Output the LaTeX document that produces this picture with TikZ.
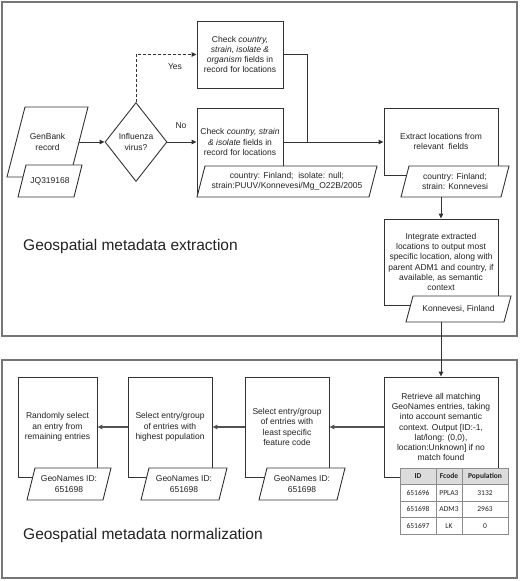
\documentclass[tikz,border=0pt]{standalone}
\usepackage{fontspec}
\setmainfont{Liberation Sans}
\newfontfamily\tabfont{Carlito}
\usetikzlibrary{arrows.meta,shapes.geometric}
\definecolor{ln}{HTML}{333333}
\definecolor{framec}{HTML}{767676}
\definecolor{hdr}{HTML}{DCDCDC}
\definecolor{tl}{HTML}{8C8C8C}
\definecolor{txtc}{HTML}{222222}
\newcommand\txt{\fontsize{8.5}{10.3}\selectfont}
% name, x bottom-left, x top-right, y top, y bottom, slant, text
\newcommand\mypara[7]{%
  \filldraw[pline] ({#2+#6},#4) -- (#3,#4) -- ({#3-#6},#5) -- (#2,#5) -- cycle;
  \node[ptext, minimum width={#3-#2}, minimum height={#5-#4}] (#1) at ({(#2+#3)/2},{(#4+#5)/2}) {#7};
}
\tikzset{
  box/.style={draw=ln, line width=0.9pt, fill=white, inner sep=0pt, align=center, font=\txt, text=txtc},
  ptext/.style={inner sep=0pt, align=center, font=\txt, text=txtc},
  pline/.style={draw=ln, fill=white, line width=0.9pt},
  conn/.style={draw=ln, line width=0.9pt, -{Triangle[length=5pt,width=4.5pt]}},
  connb/.style={draw=ln!85, line width=1.4pt, -{Triangle[length=5pt,width=4.5pt]}},
  plainln/.style={draw=ln, line width=0.9pt},
  framebox/.style={draw=framec, line width=1.1pt},
  ttl/.style={inner sep=0pt, anchor=west, font=\fontsize{15.5}{18}\selectfont, text=txtc},
  tabtxt/.style={inner sep=0pt, font=\tabfont\fontsize{7.5}{9}\selectfont, text=txtc},
  tabhd/.style={inner sep=0pt, font=\tabfont\bfseries\fontsize{7.5}{9}\selectfont, text=txtc},
}
\begin{document}
\begin{tikzpicture}[x=1pt,y=-1pt]
\useasboundingbox (0,0) rectangle (520,581);
% frames
\draw[framebox] (2,2) rectangle (517,336);
\draw[framebox] (2,360) rectangle (517,578);
\node[ttl] (t1) at (23,246) {Geospatial metadata extraction};
\node[ttl] (t2) at (23,535) {Geospatial metadata normalization};

% extraction part
\mypara{gb}{7}{88}{107}{177}{18}{GenBank\\record}
\mypara{jq}{18}{82}{165}{197}{8}{JQ319168}
\node[box, diamond, minimum width=62pt, minimum height=79pt] (dia) at (136,142) {Influenza\\virus?};

\node[box, minimum width=86pt, minimum height=67pt] (chk1) at (240,54.5)
  {Check \textit{country,}\\\textit{strain}, \textit{isolate \&}\\\textit{organism} fields in\\record for locations};
\node[box, minimum width=86pt, minimum height=85pt] (chk2) at (240,150.5) {};
\node[ptext] (chk2t) at (240,142) {Check \textit{country, strain}\\\textit{\& isolate} fields in\\record for locations};
\mypara{p1}{197}{377}{166}{197}{8}{country: Finland;~~isolate: null;\\strain:PUUV/Konnevesi/Mg\_O22B/2005}

\node[box, minimum width=114pt, minimum height=67pt] (ext) at (441,141.5) {Extract locations from\\relevant~~fields};
\mypara{p2}{401}{509}{166}{197}{8}{country: Finland;\\strain: Konnevesi}

\node[box, minimum width=114pt, minimum height=86pt] (int) at (441,262)
  {Integrate extracted\\locations to output most\\specific location, along with\\parent ADM1 and country, if\\available, as semantic\\context};
\mypara{p3}{406}{511}{296}{322}{7}{Konnevesi, Finland}

% normalization part
\node[box, minimum width=114pt, minimum height=100pt] (ret) at (441,427)
  {Retrieve all matching\\GeoNames entries, taking\\into account semantic\\context. Output [ID:-1,\\lat/long: (0,0),\\location:Unknown] if no\\match found};
\node[box, minimum width=84pt, minimum height=100pt] (lst) at (287,427)
  {Select entry/group\\of entries with\\least specific\\feature code};
\mypara{plst}{259}{345}{468}{500}{8}{GeoNames ID:\\651698}
\node[box, minimum width=84pt, minimum height=100pt] (hi) at (170,427)
  {Select entry/group\\of entries with\\highest population};
\mypara{phi}{141}{227}{468}{500}{8}{GeoNames ID:\\651698}
\node[box, minimum width=79pt, minimum height=100pt] (rnd) at (57.5,427)
  {Randomly select\\an entry from\\remaining entries};
\mypara{prnd}{27}{111}{468}{500}{8}{GeoNames ID:\\651698}

% table
\filldraw[draw=tl, fill=white, line width=1pt] (400,468) rectangle (508,534);
\fill[hdr] (400,468) rectangle (508,484.5);
\draw[tl, line width=1pt] (400,468) rectangle (508,534);
\draw[tl, line width=1pt] (400,484.5) -- (508,484.5) (400,501) -- (508,501) (400,517.5) -- (508,517.5)
  (436,468) -- (436,534) (462,468) -- (462,534);
\node[tabhd] (h1) at (418,476.3) {ID};
\node[tabhd] (h2) at (449,476.3) {Fcode};
\node[tabhd] (h3) at (485,476.3) {Population};
\node[tabtxt] (a1) at (418,492.8) {651696};
\node[tabtxt] (a2) at (449,492.8) {PPLA3};
\node[tabtxt] (a3) at (485,492.8) {3132};
\node[tabtxt] (b1) at (418,509.3) {651698};
\node[tabtxt] (b2) at (449,509.3) {ADM3};
\node[tabtxt] (b3) at (485,509.3) {2963};
\node[tabtxt] (c1) at (418,525.8) {651697};
\node[tabtxt] (c2) at (449,525.8) {LK};
\node[tabtxt] (c3) at (485,525.8) {0};

% connectors
\draw[conn] ([xshift=-9pt]gb.east) -- (dia.west);
\draw[conn] (dia.east) -- (chk2.west |- dia.east);
\draw[conn, dash pattern=on 3pt off 2pt] (dia.north) |- (chk1.west);
\node[ptext] (yes) at (175,67) {Yes};
\node[ptext] (no) at (181,126) {No};
\coordinate (jn) at (307,142);
\draw[plainln] (chk1.east) -| (jn);
\draw[conn] (chk2.east |- jn) -- (ext.west |- jn);
\draw[conn] (ext.south |- p2.south) -- (int.north);
\draw[conn] (int.south |- p3.south) -- (ret.north);
\draw[connb] (ret.west) -- (lst.east);
\draw[connb] (lst.west) -- (hi.east);
\draw[connb] (hi.west) -- (rnd.east);
\end{tikzpicture}
\end{document}
